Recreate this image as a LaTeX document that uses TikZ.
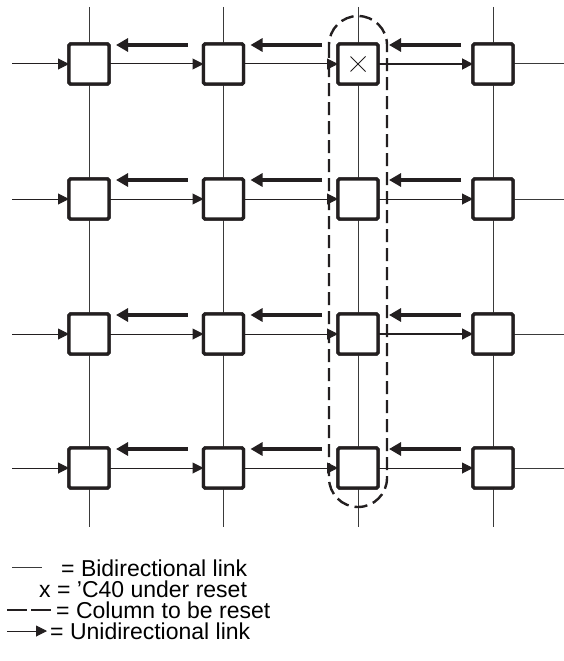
\documentclass[tikz,border=0pt]{standalone}
\usepackage{fontspec}
\setmainfont{Liberation Sans}
\usetikzlibrary{arrows.meta,calc}
\definecolor{ink}{HTML}{231F20}
\definecolor{thin}{HTML}{3A3A3A}
\tikzset{
  pe/.style={draw=ink,line width=3.4pt,rounded corners=1.5pt,fill=white,minimum size=40pt,inner sep=0pt,outer sep=0pt},
  link/.style={draw=thin,line width=1pt},
  uni/.style={draw=ink,line width=1pt,-{Triangle[length=11pt,width=11pt]}},
  fwd/.style={draw=ink,line width=4.2pt,-{Triangle[length=12pt,width=13pt]}},
  resetcol/.style={draw=ink,line width=2.4pt,dash pattern=on 13pt off 6pt,rounded corners=29pt},
  legtext/.style={anchor=base west,inner sep=0pt,font=\fontsize{23pt}{24pt}\selectfont}
}
\begin{document}
\begin{tikzpicture}[x=1pt,y=-1pt]
\useasboundingbox (0,0) rectangle (564,661);
% nodes
\foreach \r/\y in {1/64,2/199,3/334,4/468}{
  \foreach \c/\x in {1/89,2/223.5,3/358,4/493}{
    \node[pe] (b\r\c) at (\x,\y) {};
  }
  \coordinate (L\r) at (12,\y);
  \coordinate (R\r) at (564,\y);
}
\foreach \c/\x in {1/89,2/223.5,3/358,4/493}{
  \coordinate (T\c) at (\x,7);
  \coordinate (B\c) at (\x,527);
}
% vertical links
\foreach \c in {1,2,3,4}{
  \draw[link] (T\c) -- (b1\c.north);
  \draw[link] (b1\c.south) -- (b2\c.north);
  \draw[link] (b2\c.south) -- (b3\c.north);
  \draw[link] (b3\c.south) -- (b4\c.north);
  \draw[link] (b4\c.south) -- (B\c);
}
% horizontal links
\foreach \r in {1,2,3,4}{
  \draw[uni] (L\r) -- (b\r1.west);
  \draw[uni] (b\r1.east) -- (b\r2.west);
  \draw[link] (b\r4.east) -- (R\r);
  \draw[fwd] ($(b\r2.north west)+(-16,1)$) -- ($(b\r1.north east)+(7,1)$);
  \draw[fwd] ($(b\r3.north west)+(-16,1)$) -- ($(b\r2.north east)+(7,1)$);
  \draw[fwd] ($(b\r4.north west)+(-12,1)$) -- ($(b\r3.north east)+(11,1)$);
}
\draw[uni] (b12.east) -- (b13.west);
\draw[uni] (b22.east) -- (b23.west);
\draw[uni] (b32.east) -- (b33.west);
\draw[uni] (b42.east) -- (b43.west);
\draw[uni,line width=1.8pt] (b13.east) -- (b14.west);
\draw[uni] (b23.east) -- (b24.west);
\draw[uni,line width=1.4pt] (b33.east) -- (b34.west);
\draw[uni] (b43.east) -- (b44.west);
% redraw boxes on top
\foreach \r/\y in {1/64,2/199,3/334,4/468}{
  \foreach \c/\x in {1/89,2/223.5,3/358,4/493}{
    \node[pe] at (\x,\y) {};
  }
}
% cross in C40 under reset
\draw[ink,line width=0.9pt] ($(b13.center)+(-7.5,-7.5)$) -- ($(b13.center)+(7.5,7.5)$)
  ($(b13.center)+(-7.5,7.5)$) -- ($(b13.center)+(7.5,-7.5)$);
% column to be reset
\draw[resetcol] (329,16) rectangle (387,507);
% legend
\coordinate (lg1a) at (12,567); \coordinate (lg1b) at (42,567);
\draw[link] (lg1a) -- (lg1b);
\node[legtext] (t1) at (61,576) {= Bidirectional link};
\node[legtext] (t2) at (39,597) {x = ’C40 under reset};
\coordinate (lg3a) at (7,610); \coordinate (lg3b) at (51,610);
\draw[ink,line width=2.4pt,dash pattern=on 20pt off 4pt] (lg3a) -- (lg3b);
\node[legtext] (t3) at (56,618) {= Column to be reset};
\coordinate (lg4a) at (7,631); \coordinate (lg4b) at (47,631);
\draw[uni] (lg4a) -- (lg4b);
\node[legtext] (t4) at (50,639) {= Unidirectional link};
\end{tikzpicture}
\end{document}
